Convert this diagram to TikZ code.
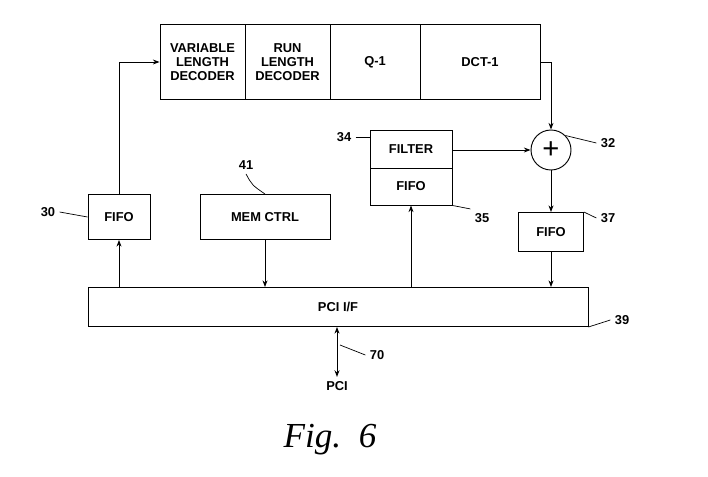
\documentclass[tikz,border=0pt]{standalone}
\usepackage{fontspec}
\setmainfont{Liberation Sans}
\newfontfamily\capfont{Liberation Serif}
\usetikzlibrary{positioning, calc, arrows.meta}
\tikzset{
every node/.style = {font = \fontsize{11}{12}\selectfont\bfseries},
block/.style = {rectangle, draw, thick, inner sep = 2pt, align = center},
flow/.style = {-{Stealth[length = 2mm]}, thick},
both/.style = {{Stealth[length = 2mm]}-{Stealth[length = 2mm]}, thick},
lead/.style = {semithick}
}
\begin{document}
\begin{tikzpicture}[x = 0.03cm, y = -0.03cm, line width = 1pt]
\useasboundingbox (0,0) rectangle (708,476);

%% Decoder chain
\node [block, minimum width = 2.55cm, minimum height = 2.25cm] (vld) at (202.5,62) {VARIABLE\\LENGTH\\DECODER};
\node [block, minimum width = 2.55cm, minimum height = 2.25cm] (rld) at (287.5,62) {RUN\\LENGTH\\DECODER};
\node [block, minimum width = 2.7cm, minimum height = 2.25cm] (iq) at (375,62) {Q-1};
\node [block, minimum width = 3.6cm, minimum height = 2.25cm] (idct) at (480,62) {DCT-1};

%% Adder
\node [circle, draw, thick, minimum size = 1.2cm, inner sep = 0pt, font = \Huge] (add) at (551,150) {+};

%% Filter and its fifo
\node [block, minimum width = 2.46cm, minimum height = 1.14cm] (filt) at (411,149) {FILTER};
\node [block, minimum width = 2.46cm, minimum height = 1.11cm] (ffifo) at (411,186.5) {FIFO};

%% Other blocks
\node [block, minimum width = 1.86cm, minimum height = 1.35cm] (fifoa) at (119,217) {FIFO};
\node [block, minimum width = 3.9cm, minimum height = 1.35cm] (mem) at (265,217) {MEM CTRL};
\node [block, minimum width = 1.95cm, minimum height = 1.17cm] (fifob) at (551,232) {FIFO};
\node [block, minimum width = 15cm, minimum height = 1.17cm] (pci) at (338,307) {PCI I/F};
\node (bus) at (337,386) {PCI};

%% Connectors
\draw [flow] (pci.north -| fifoa) -- (fifoa.south);
\draw [flow] (fifoa.north) |- (vld.west);
\draw [flow] (mem.south) -- (pci.north -| mem);
\draw [flow] (pci.north -| ffifo) -- (ffifo.south);
\draw [flow] (filt.east |- add) -- (add.west);
\draw [flow] (idct.east) -| (add.north);
\draw [flow] (add.south) -- (fifob.north);
\draw [flow] (fifob.south) -- (pci.north -| fifob);
\draw [both] (pci.south -| bus) -- (bus.north);

%% Reference numerals
\node (n30) at (48,212) {30};
\draw [lead] (n30.east) -- (fifoa.west);
\node (n41) at (246,165) {41};
\draw [lead] (n41.south) .. controls (252,185) .. (mem.north);
\node (n34) at (344,137) {34};
\draw [lead] (n34.east) -- (filt.west |- n34);
\node (n35) at (482,218) {35};
\draw [lead] (n35.north west) -- (ffifo.south east);
\node (n32) at (608,143) {32};
\draw [lead] (n32.west) -- (add.north east);
\node (n37) at (608,218) {37};
\draw [lead] (n37.west) -- (fifob.north east);
\node (n39) at (622,320) {39};
\draw [lead] (n39.west) -- (pci.south east);
\node (n70) at (377,355) {70};
\draw [lead] (n70.west) -- (340,345);

\node [font = \fontsize{30}{32}\selectfont\capfont\itshape] (cap) at (330,440) {Fig.\ \ 6};
\end{tikzpicture}
\end{document}
